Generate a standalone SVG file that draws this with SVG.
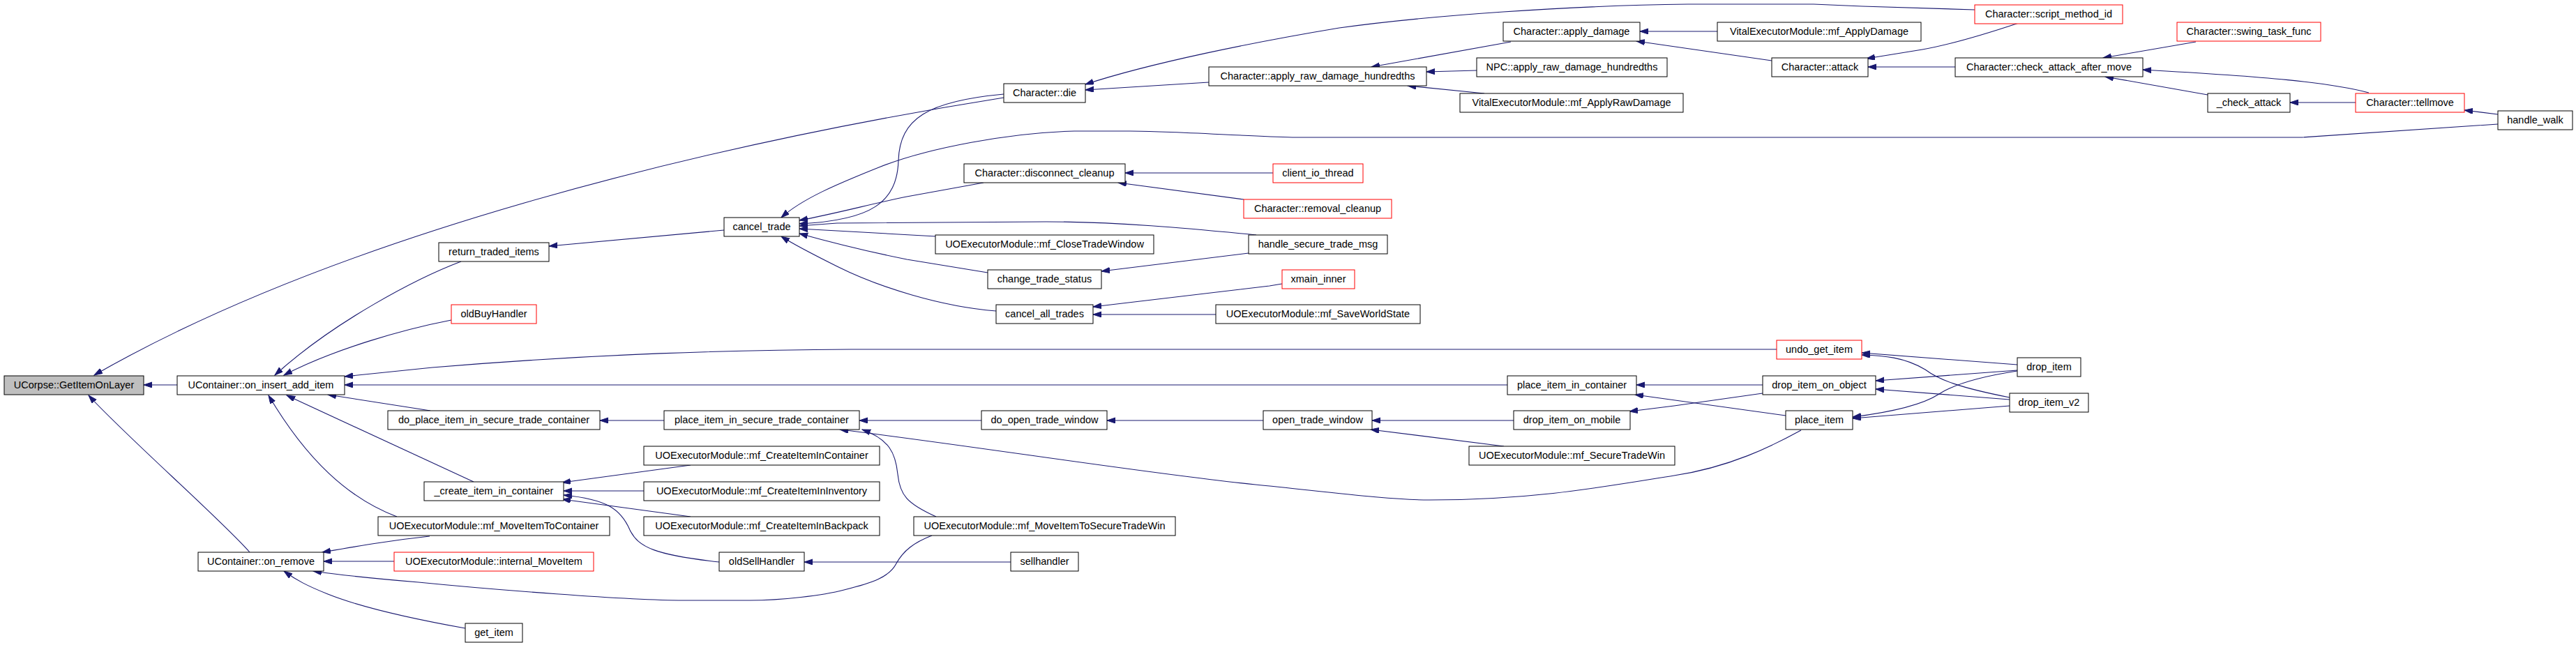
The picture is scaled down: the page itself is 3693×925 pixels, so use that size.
<svg xmlns="http://www.w3.org/2000/svg" width="3693" height="925" viewBox="0 0 3693 925">
<style>
.n rect{fill:#fff;stroke:#000;stroke-width:1}
.r rect{stroke:#f00}
.m rect{fill:#bfbfbf}
text{font-family:"Liberation Sans",Arial,sans-serif;font-size:14.5px;text-anchor:middle;fill:#000}
#edges path{fill:none;stroke:#191970;stroke-width:1.1;marker-end:url(#ah)}
</style>
<defs>
<marker id="ah" markerWidth="13" markerHeight="9" refX="12" refY="4" orient="auto" markerUnits="userSpaceOnUse"><path d="M0,0 L12,4 L0,8 z" fill="#191970" stroke="#191970" stroke-width="1"/></marker>
</defs>
<rect width="3693" height="925" fill="#fff"/>
<g id="edges">
<path d="M254,552 L206,552"/>
<path d="M1439,140 C1000,210 480,340 135,538"/>
<path d="M358,792 C320,748 180,625 127,567"/>
<path d="M661,375 C600,398 480,460 394,538"/>
<path d="M647,459 C580,472 480,500 407,538"/>
<path d="M2547,501 L1220,501 C1050,502 860,507 620,527 L494,540"/>
<path d="M2161,552 L494,552"/>
<path d="M617,589 L470,566"/>
<path d="M679,691 L411,567"/>
<path d="M569,741 C500,715 440,660 385,567"/>
<path d="M616,769 C560,775 520,782 462,792"/>
<path d="M565,805 L464,805"/>
<path d="M1336,768 C1310,778 1295,790 1285,808 C1275,828 1250,836 1210,846 C1180,854 1120,861 1075,861 L980,861 C900,861 700,845 600,835 C540,830 490,825 449,819"/>
<path d="M667,901 C600,889 520,872 470,852 C440,840 425,832 407,819"/>
<path d="M1038,330 L787,353"/>
<path d="M3581,178 L3300,197 L1853,197 C1780,195 1680,188 1620,188 L1540,188 C1450,190 1330,212 1260,240 C1200,264 1150,285 1120,312"/>
<path d="M1439,135 C1330,145 1290,170 1288,230 C1286,290 1250,316 1146,321"/>
<path d="M1410,262 L1300,282 C1250,292 1200,306 1146,316"/>
<path d="M1801,337 C1700,327 1600,318 1500,318 L1200,320 L1146,324"/>
<path d="M1342,339 L1146,328"/>
<path d="M1416,391 L1300,372 C1250,362 1200,350 1146,335"/>
<path d="M1428,446 C1350,440 1260,412 1200,382 C1170,367 1140,352 1120,339"/>
<path d="M2831,14 L2670,9 L2600,6 L2420,6 C2250,8 2050,22 1920,40 C1800,60 1650,90 1556,121"/>
<path d="M1733,118 L1556,129"/>
<path d="M2166,60 L1966,96"/>
<path d="M2117,101 L2045,103"/>
<path d="M2128,134 L2018,123"/>
<path d="M2462,45 L2351,45"/>
<path d="M2540,87 L2346,59"/>
<path d="M2894,33 C2840,51 2790,65 2756,71 L2676,84"/>
<path d="M2803,96 L2678,96"/>
<path d="M3148,60 L3015,83"/>
<path d="M3396,133 C3340,118 3250,110 3072,100"/>
<path d="M3165,136 L3018,110"/>
<path d="M3377,147 L3283,147"/>
<path d="M3581,164 L3533,158"/>
<path d="M1825,248 L1613,248"/>
<path d="M1783,286 L1603,262"/>
<path d="M1790,363 L1579,389"/>
<path d="M1838,407 L1820,410 L1567,440"/>
<path d="M1743,451 L1567,451"/>
<path d="M952,603 L860,603"/>
<path d="M1407,603 L1232,603"/>
<path d="M1342,741 C1300,722 1290,710 1287,680 C1284,650 1275,630 1236,616"/>
<path d="M2582,617 C2540,640 2480,670 2400,682 C2300,698 2200,717 2049,717 C1990,717 1900,705 1800,695 C1650,680 1400,640 1204,616"/>
<path d="M2170,603 L1967,603"/>
<path d="M2156,640 L1965,616"/>
<path d="M1811,603 L1587,603"/>
<path d="M990,667 L806,692"/>
<path d="M923,704 L808,704"/>
<path d="M990,741 L806,716"/>
<path d="M1031,806 C940,796 915,785 903,760 C890,730 870,716 808,710"/>
<path d="M1449,806 L1153,806"/>
<path d="M2892,523 L2669,506"/>
<path d="M2881,570 C2810,556 2780,545 2760,530 C2730,512 2700,510 2669,509"/>
<path d="M2892,531 L2689,546"/>
<path d="M2881,573 L2689,558"/>
<path d="M2892,532 C2840,540 2800,552 2780,565 C2760,578 2720,590 2656,598"/>
<path d="M2881,582 L2656,600"/>
<path d="M2527,552 L2346,552"/>
<path d="M2560,596 L2344,566"/>
<path d="M2527,564 L2400,582 L2336,590"/>
</g>
<g id="n_ucorpse" class="n m"><rect x="6" y="539" width="200" height="27"/><text x="106" y="557">UCorpse::GetItemOnLayer</text></g>
<g id="n_oninsert" class="n"><rect x="254" y="539" width="240" height="27"/><text x="374" y="557">UContainer::on_insert_add_item</text></g>
<g id="n_onremove" class="n"><rect x="284" y="792" width="180" height="27"/><text x="374" y="810">UContainer::on_remove</text></g>
<g id="n_rti" class="n"><rect x="629" y="348" width="158" height="27"/><text x="708" y="366">return_traded_items</text></g>
<g id="n_obh" class="n r"><rect x="647" y="437" width="122" height="27"/><text x="708" y="455">oldBuyHandler</text></g>
<g id="n_doplace" class="n"><rect x="556" y="589" width="304" height="27"/><text x="708" y="607">do_place_item_in_secure_trade_container</text></g>
<g id="n_create" class="n"><rect x="608" y="691" width="200" height="27"/><text x="708" y="709">_create_item_in_container</text></g>
<g id="n_mitc" class="n"><rect x="542" y="741" width="332" height="27"/><text x="708" y="759">UOExecutorModule::mf_MoveItemToContainer</text></g>
<g id="n_imi" class="n r"><rect x="565" y="792" width="286" height="27"/><text x="708" y="810">UOExecutorModule::internal_MoveItem</text></g>
<g id="n_getitem" class="n"><rect x="667" y="894" width="82" height="27"/><text x="708" y="912">get_item</text></g>
<g id="n_canceltrade" class="n"><rect x="1038" y="312" width="108" height="27"/><text x="1092" y="330">cancel_trade</text></g>
<g id="n_pistc" class="n"><rect x="952" y="589" width="280" height="27"/><text x="1092" y="607">place_item_in_secure_trade_container</text></g>
<g id="n_ciic" class="n"><rect x="923" y="640" width="338" height="27"/><text x="1092" y="658">UOExecutorModule::mf_CreateItemInContainer</text></g>
<g id="n_ciiinv" class="n"><rect x="923" y="691" width="338" height="27"/><text x="1092" y="709">UOExecutorModule::mf_CreateItemInInventory</text></g>
<g id="n_ciib" class="n"><rect x="923" y="741" width="338" height="27"/><text x="1092" y="759">UOExecutorModule::mf_CreateItemInBackpack</text></g>
<g id="n_osh" class="n"><rect x="1031" y="792" width="122" height="27"/><text x="1092" y="810">oldSellHandler</text></g>
<g id="n_die" class="n"><rect x="1439" y="120" width="117" height="27"/><text x="1497.5" y="138">Character::die</text></g>
<g id="n_dc" class="n"><rect x="1382" y="235" width="231" height="27"/><text x="1497.5" y="253">Character::disconnect_cleanup</text></g>
<g id="n_ctw" class="n"><rect x="1341" y="337" width="313" height="27"/><text x="1497.5" y="355">UOExecutorModule::mf_CloseTradeWindow</text></g>
<g id="n_cts" class="n"><rect x="1416" y="387" width="163" height="27"/><text x="1497.5" y="405">change_trade_status</text></g>
<g id="n_cat" class="n"><rect x="1428" y="437" width="139" height="27"/><text x="1497.5" y="455">cancel_all_trades</text></g>
<g id="n_dotw" class="n"><rect x="1407" y="589" width="180" height="27"/><text x="1497.5" y="607">do_open_trade_window</text></g>
<g id="n_mistw" class="n"><rect x="1310" y="741" width="375" height="27"/><text x="1497.5" y="759">UOExecutorModule::mf_MoveItemToSecureTradeWin</text></g>
<g id="n_sh" class="n"><rect x="1449" y="792" width="97" height="27"/><text x="1497.5" y="810">sellhandler</text></g>
<g id="n_arh" class="n"><rect x="1733" y="96" width="312" height="27"/><text x="1889" y="114">Character::apply_raw_damage_hundredths</text></g>
<g id="n_cio" class="n r"><rect x="1825" y="235" width="129" height="27"/><text x="1889.5" y="253">client_io_thread</text></g>
<g id="n_rc" class="n r"><rect x="1783" y="286" width="212" height="27"/><text x="1889" y="304">Character::removal_cleanup</text></g>
<g id="n_hstm" class="n"><rect x="1790" y="337" width="199" height="27"/><text x="1889.5" y="355">handle_secure_trade_msg</text></g>
<g id="n_xi" class="n r"><rect x="1838" y="387" width="104" height="27"/><text x="1890" y="405">xmain_inner</text></g>
<g id="n_swws" class="n"><rect x="1743" y="437" width="293" height="27"/><text x="1889.5" y="455">UOExecutorModule::mf_SaveWorldState</text></g>
<g id="n_otw" class="n"><rect x="1811" y="589" width="156" height="27"/><text x="1889" y="607">open_trade_window</text></g>
<g id="n_ad" class="n"><rect x="2155" y="32" width="196" height="27"/><text x="2253" y="50">Character::apply_damage</text></g>
<g id="n_npc" class="n"><rect x="2117" y="83" width="273" height="27"/><text x="2253.5" y="101">NPC::apply_raw_damage_hundredths</text></g>
<g id="n_vearh" class="n"><rect x="2093" y="134" width="320" height="27"/><text x="2253" y="152">VitalExecutorModule::mf_ApplyRawDamage</text></g>
<g id="n_pic" class="n"><rect x="2161" y="539" width="185" height="27"/><text x="2253.5" y="557">place_item_in_container</text></g>
<g id="n_diom" class="n"><rect x="2170" y="589" width="167" height="27"/><text x="2253.5" y="607">drop_item_on_mobile</text></g>
<g id="n_stw" class="n"><rect x="2106" y="640" width="295" height="27"/><text x="2253.5" y="658">UOExecutorModule::mf_SecureTradeWin</text></g>
<g id="n_ved" class="n"><rect x="2462" y="32" width="292" height="27"/><text x="2608" y="50">VitalExecutorModule::mf_ApplyDamage</text></g>
<g id="n_attack" class="n"><rect x="2540" y="83" width="138" height="27"/><text x="2609" y="101">Character::attack</text></g>
<g id="n_ugi" class="n r"><rect x="2547" y="488" width="122" height="27"/><text x="2608" y="506">undo_get_item</text></g>
<g id="n_dioo" class="n"><rect x="2527" y="539" width="162" height="27"/><text x="2608" y="557">drop_item_on_object</text></g>
<g id="n_pi" class="n"><rect x="2560" y="589" width="96" height="27"/><text x="2608" y="607">place_item</text></g>
<g id="n_smi" class="n r"><rect x="2831" y="7" width="212" height="27"/><text x="2937" y="25">Character::script_method_id</text></g>
<g id="n_caam" class="n"><rect x="2803" y="83" width="269" height="27"/><text x="2937.5" y="101">Character::check_attack_after_move</text></g>
<g id="n_di" class="n"><rect x="2892" y="513" width="91" height="27"/><text x="2937.5" y="531">drop_item</text></g>
<g id="n_div2" class="n"><rect x="2881" y="564" width="113" height="27"/><text x="2937.5" y="582">drop_item_v2</text></g>
<g id="n_stf" class="n r"><rect x="3121" y="32" width="206" height="27"/><text x="3224" y="50">Character::swing_task_func</text></g>
<g id="n_ca" class="n"><rect x="3165" y="134" width="118" height="27"/><text x="3224" y="152">_check_attack</text></g>
<g id="n_tm" class="n r"><rect x="3377" y="134" width="156" height="27"/><text x="3455" y="152">Character::tellmove</text></g>
<g id="n_hw" class="n"><rect x="3581" y="159" width="107" height="27"/><text x="3634.5" y="177">handle_walk</text></g>
</svg>
